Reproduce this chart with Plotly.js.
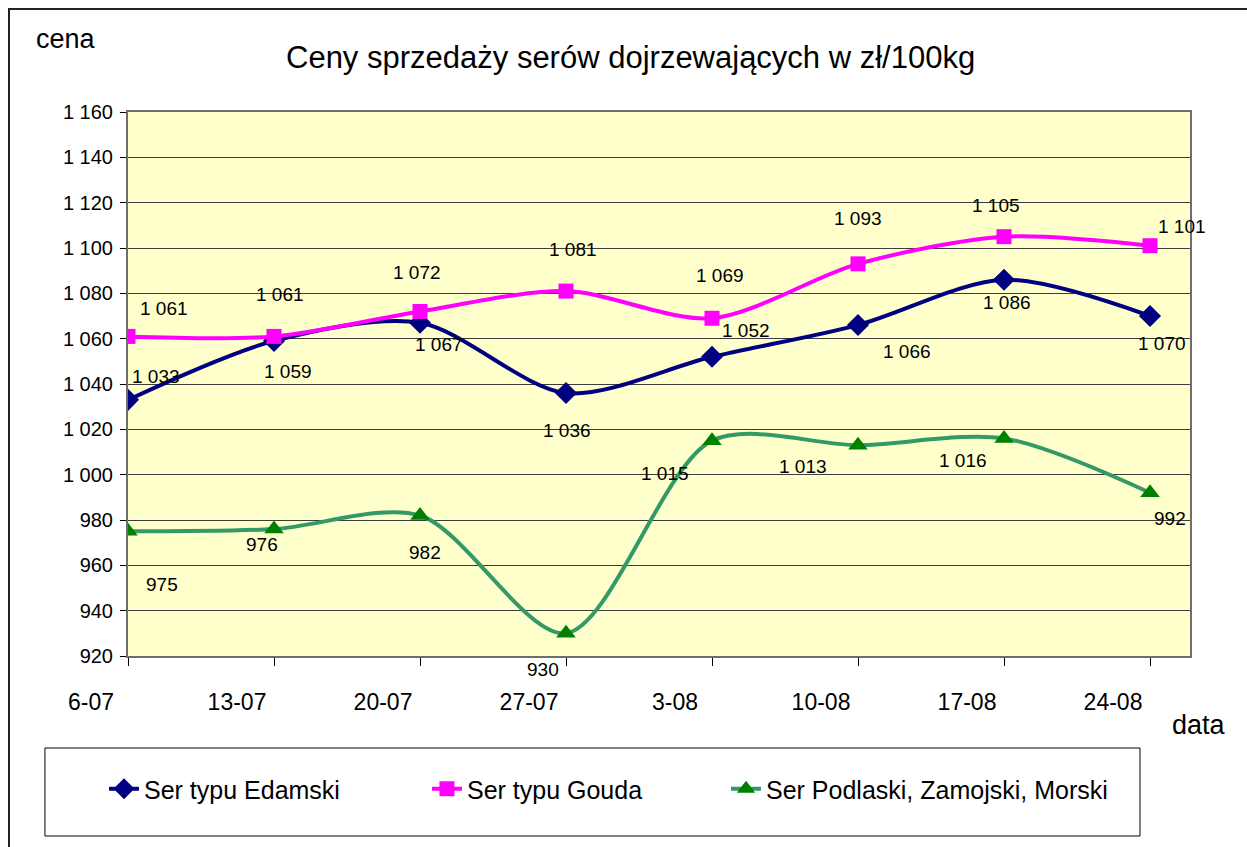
<!DOCTYPE html>
<html>
<head>
<meta charset="utf-8">
<script src="https://cdn.plot.ly/plotly-3.0.1.min.js"></script>
<style>
  html, body { margin: 0; padding: 0; background: #ffffff; overflow: hidden; }
  #frame { position: absolute; left: 8px; top: 8px; width: 1400px; height: 1000px; border: 2px solid #222; box-sizing: border-box; }
  #chart { position: absolute; left: 0; top: 0; width: 1247px; height: 847px; }
</style>
</head>
<body>
<div id="frame"></div>
<div id="chart"></div>
<script>
// ---- data ----
const categories = ["6-07", "13-07", "20-07", "27-07", "3-08", "10-08", "17-08", "24-08"];
const edamski  = [1033, 1059, 1067, 1036, 1052, 1066, 1086, 1070];
const gouda    = [1061, 1061, 1072, 1081, 1069, 1093, 1105, 1101];
const podlaski = [975, 976, 982, 930, 1015, 1013, 1016, 992];
const seriesNames = ["Ser typu Edamski", "Ser typu Gouda", "Ser Podlaski, Zamojski, Morski"];
const yTicks = [920, 940, 960, 980, 1000, 1020, 1040, 1060, 1080, 1100, 1120, 1140, 1160];

// ---- label placement (pixel offsets from each point) ----
const offEdamski  = [[28,23],[14,-31],[19,-22],[1,-37],[34,26],[49,-26],[3,-23],[12,-27]];
const offGouda    = [[36,28],[6,42],[-3,39],[7,42],[8,43],[0,45],[-8,31],[32,19]];
const offPodlaski = [[34,-53],[-12,-15],[5,-37],[-23,-36],[-47,-33],[-55,-21],[-41,-22],[20,-26]];

function fmt(v) {
  if (v >= 1000) return Math.floor(v / 1000) + " " + String(v % 1000).padStart(3, "0");
  return String(v);
}

const xIdx = categories.map((c, i) => i);
const FONT = "Liberation Sans, Arial, sans-serif";

const colors = {ed: "#000080", go: "#FF00FF", poLine: "#339966", poMark: "#008000"};

const traces = [
  {x: xIdx, y: edamski, name: seriesNames[0], type: "scatter", mode: "lines+markers", legend: "legend",
   line: {color: colors.ed, width: 4, shape: "spline", smoothing: 0.85},
   marker: {symbol: "diamond", size: 17, color: colors.ed}},
  {x: xIdx, y: gouda, name: seriesNames[1], type: "scatter", mode: "lines+markers", legend: "legend2",
   line: {color: colors.go, width: 4, shape: "spline", smoothing: 0.85},
   marker: {symbol: "square", size: 15, color: colors.go}},
  {x: xIdx, y: podlaski, name: seriesNames[2], type: "scatter", mode: "lines+markers", legend: "legend3",
   line: {color: colors.poLine, width: 4, shape: "spline", smoothing: 0.85},
   marker: {symbol: "triangle-up", size: 17, color: colors.poMark}}
];

const annotations = [];
function addLabels(vals, offs) {
  vals.forEach((v, i) => {
    annotations.push({x: xIdx[i], y: v, xref: "x", yref: "y", text: fmt(v), showarrow: false,
      xshift: offs[i][0], yshift: offs[i][1], font: {family: FONT, size: 19, color: "#000"}});
  });
}
addLabels(edamski, offEdamski);
addLabels(gouda, offGouda);
addLabels(podlaski, offPodlaski);

// titles
annotations.push({text: "Ceny sprzedaży serów dojrzewających w zł/100kg", xref: "paper", yref: "paper",
  x: 0.4736, y: 1.101, xanchor: "center", yanchor: "middle", showarrow: false,
  font: {family: FONT, size: 31, color: "#000"}});
annotations.push({text: "cena", xref: "paper", yref: "paper",
  x: -0.0885, y: 1.135, xanchor: "left", yanchor: "middle", showarrow: false,
  font: {family: FONT, size: 27, color: "#000"}});
annotations.push({text: "data", xref: "paper", yref: "paper",
  x: 1.0085, y: -0.127, xanchor: "center", yanchor: "middle", showarrow: false,
  font: {family: FONT, size: 27, color: "#000"}});

function legendAt(xp) {
  return {orientation: "h", x: xp, y: -0.2445, xanchor: "left", yanchor: "middle",
    font: {family: FONT, size: 25, color: "#000"}, bgcolor: "rgba(0,0,0,0)", borderwidth: 0};
}

const layout = {
  width: 1247, height: 847,
  margin: {l: 128, r: 57, t: 112, b: 191},
  paper_bgcolor: "rgba(0,0,0,0)",
  plot_bgcolor: "#FFFFCC",
  separators: ", ",
  font: {family: FONT, color: "#000"},
  showlegend: true,
  legend: legendAt(-0.0226),
  legend2: legendAt(0.2815),
  legend3: legendAt(0.5631),
  xaxis: {range: [0, 7.274], tickvals: xIdx, ticktext: categories, showgrid: false, zeroline: false,
    ticks: "outside", ticklen: 8, tickwidth: 1, tickcolor: "#000", ticklabelshift: -37, ticklabelstandoff: 16,
    tickfont: {family: FONT, size: 23, color: "#000"},
    showline: true, linecolor: "#6e6e6e", linewidth: 2, mirror: true, fixedrange: true},
  yaxis: {range: [920, 1160], tickvals: yTicks, tickformat: ",d", showgrid: true, gridcolor: "#3c3c3c", gridwidth: 1,
    zeroline: false, ticks: "outside", ticklen: 6, tickwidth: 1, tickcolor: "#000", ticklabelstandoff: 3,
    tickfont: {family: FONT, size: 20, color: "#000"},
    showline: true, linecolor: "#6e6e6e", linewidth: 2, mirror: true, fixedrange: true},
  shapes: [
    {type: "rect", xref: "paper", yref: "paper", x0: -0.0782, x1: 0.9529, y0: -0.3309, y1: -0.1691,
     line: {color: "#000", width: 1}, fillcolor: "rgba(0,0,0,0)", layer: "below"}
  ],
  annotations: annotations
};

Plotly.newPlot("chart", traces, layout, {staticPlot: true, displayModeBar: false});
</script>
</body>
</html>
